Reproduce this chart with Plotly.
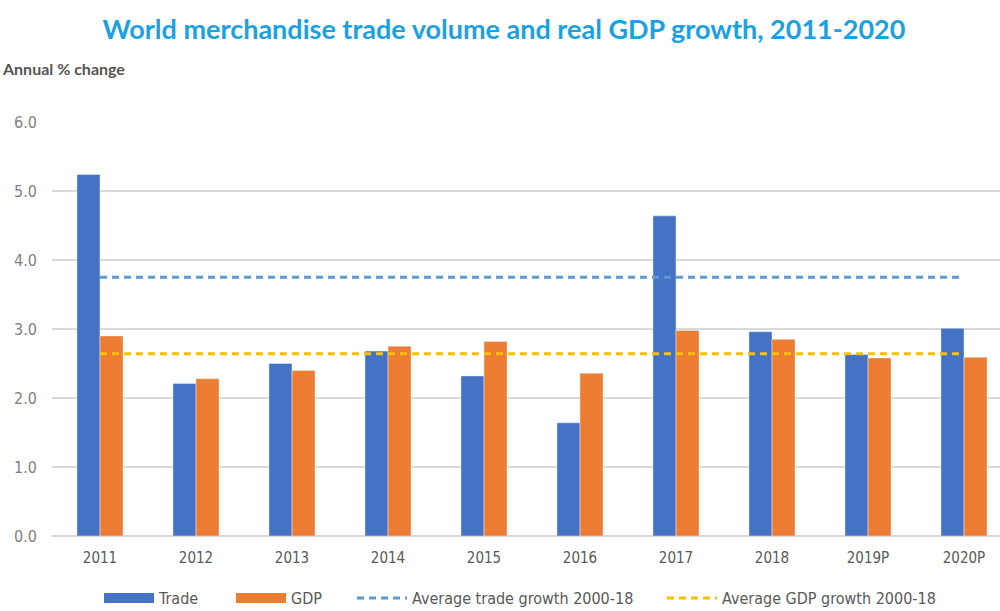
import plotly.graph_objects as go

categories = ["2011", "2012", "2013", "2014", "2015", "2016", "2017", "2018", "2019P", "2020P"]
trade = [5.24, 2.21, 2.50, 2.68, 2.32, 1.64, 4.64, 2.96, 2.63, 3.01]
gdp = [2.90, 2.28, 2.40, 2.75, 2.82, 2.36, 2.98, 2.85, 2.58, 2.59]
avg_trade = 3.75
avg_gdp = 2.64
y_ticks = [0, 1, 2, 3, 4, 5, 6]

TRADE_C = "#4472C4"
GDP_C = "#ED7D31"
font_narrow = "DejaVu Sans Condensed, Liberation Sans Narrow, Liberation Sans, sans-serif"

fig = go.Figure()
fig.add_trace(go.Bar(x=categories, y=trade, name="Trade", marker_color=TRADE_C,
                     legendgroup="trade", showlegend=False))
fig.add_trace(go.Bar(x=categories, y=gdp, name="GDP", marker_color=GDP_C,
                     legendgroup="gdp", showlegend=False))
# legend proxies (wide rectangular swatches like the reference)
fig.add_trace(go.Scatter(x=[None], y=[None], mode="lines", name="Trade", legendgroup="trade",
                         line=dict(color=TRADE_C, width=10), legend="legend"))
fig.add_trace(go.Scatter(x=[None], y=[None], mode="lines", name="GDP", legendgroup="gdp",
                         line=dict(color=GDP_C, width=10), legend="legend2"))
fig.add_trace(go.Scatter(x=categories, y=[avg_trade] * len(categories), mode="lines",
                         name="Average trade growth 2000-18", legend="legend3",
                         line=dict(color="#5B9BD5", width=3, dash="7px,5px")))
fig.add_trace(go.Scatter(x=categories, y=[avg_gdp] * len(categories), mode="lines",
                         name="Average GDP growth 2000-18", legend="legend4",
                         line=dict(color="#FFC000", width=3, dash="7px,5px")))


def legend_at(x_frac):
    return dict(orientation="h", x=x_frac, xanchor="left", xref="container",
                yref="container", y=0.021, yanchor="middle",
                font=dict(family=font_narrow, size=16, color="#595959"),
                itemwidth=50, bgcolor="rgba(0,0,0,0)")


fig.update_layout(
    width=1000, height=611,
    paper_bgcolor="white", plot_bgcolor="white",
    margin=dict(l=52, r=0, t=122, b=75),
    barmode="group", bargap=0.52, bargroupgap=0,
    title=dict(text="<b>World merchandise trade volume and real GDP growth, 2011-2020</b>",
               x=0.504, xanchor="center", y=0.952, yanchor="middle",
               font=dict(family="Lato, Open Sans, sans-serif", size=27, color="#1BA1E2")),
    showlegend=True,
    legend=legend_at(0.099),
    legend2=legend_at(0.231),
    legend3=legend_at(0.352),
    legend4=legend_at(0.662),
    xaxis=dict(type="category", range=[-0.5, 9.375], showgrid=False, showline=False,
               automargin=False, ticks="", ticklabelstandoff=11,
               tickfont=dict(family=font_narrow, size=15, color="#595959")),
    yaxis=dict(range=[0, 6], tickvals=y_ticks, tickformat=".1f", showgrid=True,
               gridcolor="#D9D9D9", gridwidth=1.5, zeroline=True, zerolinecolor="#D9D9D9",
               zerolinewidth=1.5, ticks="", ticklabelstandoff=14, automargin=False,
               tickfont=dict(family=font_narrow, size=16, color="#7F7F7F")),
    annotations=[dict(text="<b>Annual % change</b>", xref="paper", yref="paper",
                      x=-0.055, y=1.13, xanchor="left", yanchor="middle", showarrow=False,
                      font=dict(family="Lato, Open Sans, sans-serif", size=16, color="#555555"))],
)

fig.write_html("out.html", config={"displayModeBar": False},
               post_script="document.body.style.margin='0';")
